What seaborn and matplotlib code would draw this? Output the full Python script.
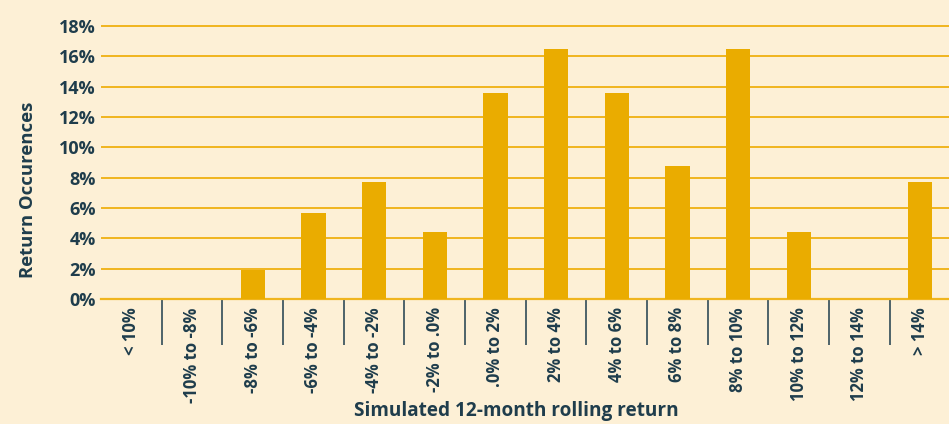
import matplotlib
matplotlib.use("Agg")
import matplotlib.pyplot as plt
import pandas as pd
import seaborn as sns
from matplotlib.ticker import FixedLocator, FuncFormatter

# Data
categories = ["< 10%", "-10% to -8%", "-8% to -6%", "-6% to -4%", "-4% to -2%",
              "-2% to .0%", ".0% to 2%", "2% to 4%", "4% to 6%", "6% to 8%",
              "8% to 10%", "10% to 12%", "12% to 14%", "> 14%"]
occurrences = [0, 0, 1.9, 5.7, 7.7, 4.4, 13.6, 16.5, 13.6, 8.8, 16.5, 4.4, 0, 7.7]
y_ticks = [0, 2, 4, 6, 8, 10, 12, 14, 16, 18]

bg = "#fdf0d6"
bar_color = "#eaac00"
grid_color = "#f0b51e"
text_color = "#1f3d4c"

sns.set_theme(style="white")
plt.rcParams["font.family"] = ["Open Sans", "DejaVu Sans"]

df = pd.DataFrame({"bucket": categories, "share": occurrences})

fig = plt.figure(figsize=(9.49, 4.24), dpi=100, facecolor=bg)
ax = fig.add_axes([0.1065, 0.2948, 0.895, 0.651])
ax.set_facecolor(bg)

sns.barplot(data=df, x="bucket", y="share", color=bar_color, width=0.4,
            saturation=1, linewidth=0, ax=ax, zorder=3)

ax.set_xlim(-0.5, len(categories) - 0.5)
ax.set_ylim(0, 18.2)
ax.set_yticks(y_ticks)
ax.yaxis.set_major_formatter(FuncFormatter(lambda v, _: f"{v:.0f}%"))
ax.grid(axis="y", color=grid_color, linewidth=1.4, zorder=0)
ax.grid(axis="x", visible=False)

for side in ["top", "right", "left"]:
    ax.spines[side].set_visible(False)
ax.spines["bottom"].set_color(grid_color)
ax.spines["bottom"].set_linewidth(1.6)

# separators between categories
ax.xaxis.set_minor_locator(FixedLocator([i + 0.5 for i in range(len(categories) - 1)]))
ax.tick_params(axis="x", which="minor", length=33, width=1.1, color=text_color,
               bottom=True)
ax.tick_params(axis="x", which="major", length=0, pad=6, labelrotation=90,
               labelsize=12, labelcolor=text_color)
ax.tick_params(axis="y", length=0, pad=4, labelsize=13, labelcolor=text_color)
for lab in ax.get_xticklabels() + ax.get_yticklabels():
    lab.set_fontweight("bold")
for lab in ax.get_xticklabels():
    lab.set_verticalalignment("top")

ax.set_xlabel("Simulated 12-month rolling return", fontsize=13.7, fontweight="bold",
              color=text_color, va="center")
ax.xaxis.set_label_coords(0.489, -0.405)
ax.set_ylabel("Return Occurences", fontsize=13.3, fontweight="bold",
              color=text_color, va="center")
ax.yaxis.set_label_coords(-0.086, 0.395)

fig.savefig("out.png", dpi=100, facecolor=bg)
